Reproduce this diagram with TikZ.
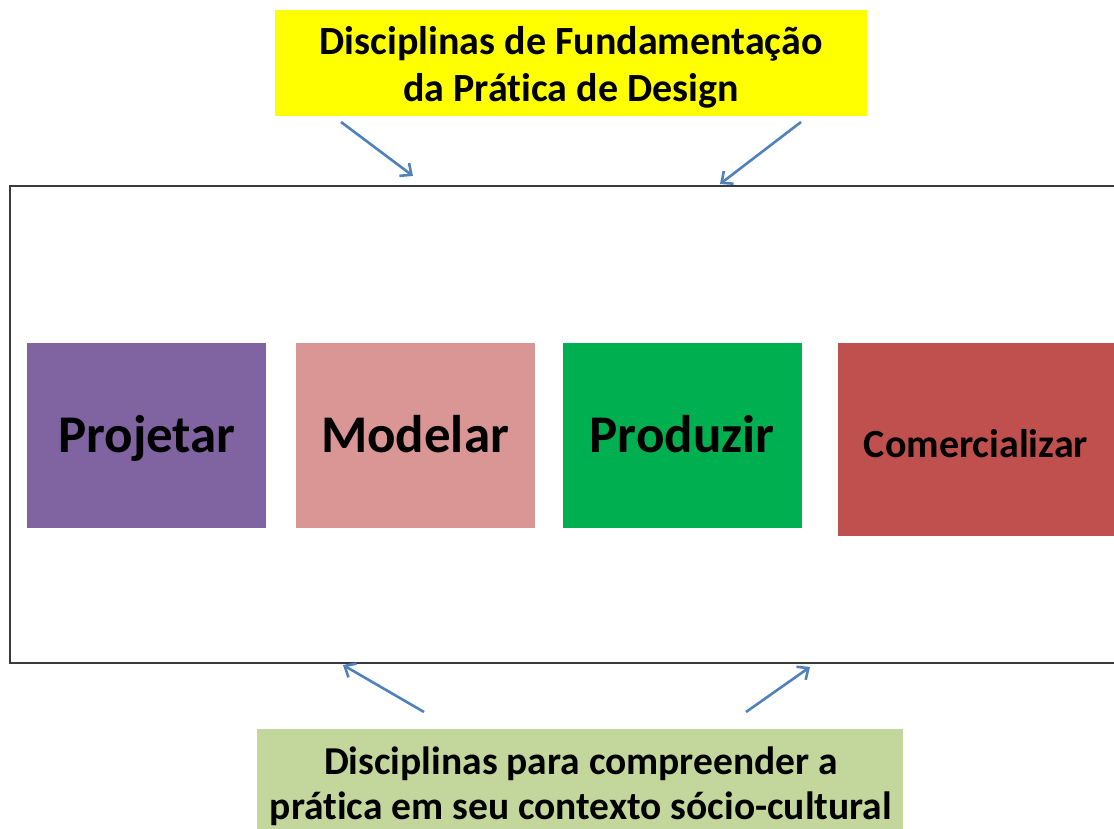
\documentclass[tikz,border=0pt]{standalone}
\usepackage{fontspec}
\setmainfont{Carlito}[Ligatures=NoCommon]
\usetikzlibrary{arrows.meta}
\definecolor{ylw}{HTML}{FFFF00}
\definecolor{grn}{HTML}{C3D69B}
\definecolor{purp}{HTML}{8064A2}
\definecolor{pink}{HTML}{D99694}
\definecolor{green2}{HTML}{00B050}
\definecolor{red2}{HTML}{C0504D}
\definecolor{arr}{HTML}{4F81BD}
\definecolor{frm}{HTML}{3A3A3A}
\tikzset{
  stage/.style={draw=none, anchor=north west, inner sep=0pt},
  stagetext/.style={inner sep=0pt, anchor=base, font=\bfseries\fontsize{53}{58}\selectfont},
  label/.style={inner sep=0pt, align=center, font=\bfseries\fontsize{40}{47}\selectfont},
  conn/.style={draw=arr, line width=2.6pt, -{Straight Barb[length=9pt,width=16pt,line width=2.6pt]}}
}
\begin{document}
\begin{tikzpicture}[x=1pt,y=-1pt]
\useasboundingbox (0,0) rectangle (1114,829);
\clip (0,0) rectangle (1114,829);
% main frame
\draw[frm, line width=2.2pt] (1130,186) -- (10,186) -- (10,663) -- (1130,663);
% top box
\node[fill=ylw, minimum width=592pt, minimum height=106pt, anchor=north west, inner sep=0pt] (top) at (275,10) {};
\node[label] (toptext) at (571,67) {Disciplinas de Fundamentação\\da Prática de Design};
% bottom box
\node[fill=grn, minimum width=646pt, minimum height=110pt, anchor=north west, inner sep=0pt] (bot) at (257,729) {};
\node[label, font=\bfseries\fontsize{39.5}{45}\selectfont] (bottext) at (581,786) {Disciplinas para compreender a\\prática em seu contexto sócio-cultural};
% stages
\node[stage, fill=purp, minimum width=239pt, minimum height=185pt] (proj) at (27,343) {};
\node[stagetext] (projt) at (147,452) {Projetar};
\node[stage, fill=pink, minimum width=239pt, minimum height=185pt] (mod) at (296,343) {};
\node[stagetext] (modt) at (415,452) {Modelar};
\node[stage, fill=green2, minimum width=239pt, minimum height=185pt] (prod) at (563,343) {};
\node[stagetext] (prodt) at (682,452) {Produzir};
\node[stage, fill=red2, minimum width=300pt, minimum height=193pt] (com) at (838,343) {};
\node[stagetext, font=\bfseries\fontsize{40}{44}\selectfont] (comt) at (976,457) {Comercializar};
% arrow endpoints
\coordinate (a1s) at (341,122); \coordinate (a1e) at (413,176);
\coordinate (a2s) at (801,122); \coordinate (a2e) at (720,184);
\coordinate (b1s) at (424,712); \coordinate (b1e) at (343,665);
\coordinate (b2s) at (746,712); \coordinate (b2e) at (810,667);
\draw[conn] (a1s) -- (a1e);
\draw[conn] (a2s) -- (a2e);
\draw[conn] (b1s) -- (b1e);
\draw[conn] (b2s) -- (b2e);
\end{tikzpicture}
\end{document}
